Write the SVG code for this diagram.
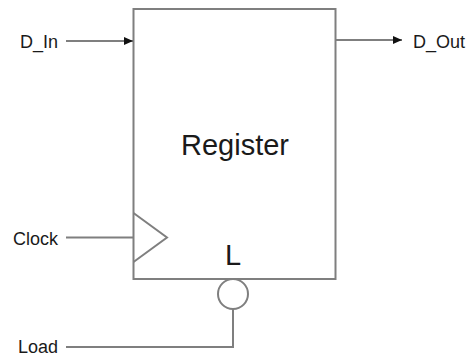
<svg xmlns="http://www.w3.org/2000/svg" width="471" height="356" viewBox="0 0 471 356">
<style>
.ln{stroke:#7f7f7f;stroke-width:2;fill:none}
.lbl{font-family:"Liberation Sans",Arial,sans-serif;font-size:18px;fill:#1a1a1a}
.big{font-family:"Liberation Sans",Arial,sans-serif;font-size:29px;fill:#1a1a1a}
</style>
<defs>
<marker id="arr" markerWidth="10" markerHeight="10" refX="9" refY="5" orient="auto" markerUnits="userSpaceOnUse">
<path d="M0,1 L9,5 L0,9 Z" fill="#111"/>
</marker>
</defs>
<g id="register">
<rect class="ln" x="133.5" y="9" width="202" height="270"/>
<polyline class="ln" points="133.5,213 167,237.5 133.5,262"/>
<text class="big" x="235" y="155" text-anchor="middle">Register</text>
<text class="big" x="233" y="265" text-anchor="middle">L</text>
<circle class="ln" cx="233" cy="294" r="15" fill="#fff"/>
</g>
<g id="d_in"><text class="lbl" x="58" y="48" text-anchor="end">D_In</text></g>
<g id="d_out"><text class="lbl" x="413" y="48">D_Out</text></g>
<g id="clock"><text class="lbl" x="58" y="245" text-anchor="end">Clock</text></g>
<g id="load"><text class="lbl" x="58" y="353" text-anchor="end">Load</text></g>
<g id="connectors">
<line class="ln" x1="66" y1="41" x2="133" y2="41" marker-end="url(#arr)"/>
<line class="ln" x1="336" y1="40" x2="402" y2="40" marker-end="url(#arr)"/>
<line class="ln" x1="66" y1="237.5" x2="133" y2="237.5"/>
<polyline class="ln" points="66,347 233,347 233,309"/>
</g>
</svg>
